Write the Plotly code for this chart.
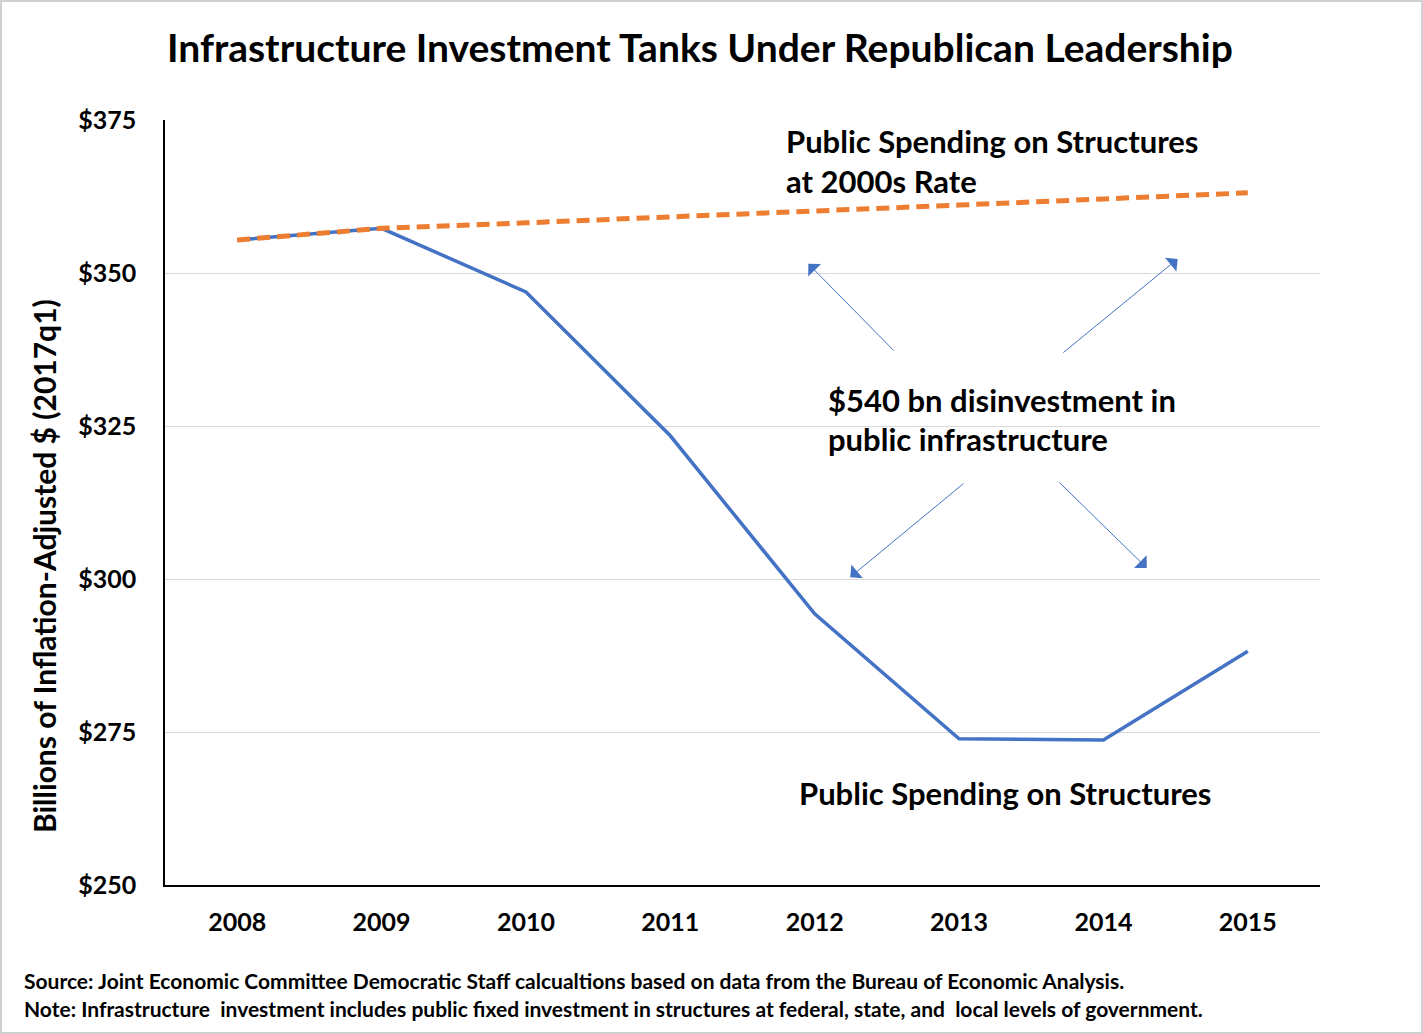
import plotly.graph_objects as go

years = ["2008", "2009", "2010", "2011", "2012", "2013", "2014", "2015"]
actual = [355.4, 357.3, 346.9, 323.4, 294.3, 273.9, 273.7, 288.2]
trend = [355.4, 357.3, 358.2, 359.1, 360.1, 361.1, 362.1, 363.1]
y_ticks = [250, 275, 300, 325, 350, 375]
y_tick_text = ["$250", "$275", "$300", "$325", "$350", "$375"]

FONT = "Lato"
BLUE = "#4472C4"
ORANGE = "#ED7D31"

fig = go.Figure()
fig.add_trace(go.Scatter(x=list(range(len(years))), y=actual, mode="lines",
                         line=dict(color=BLUE, width=3.5), hoverinfo="skip",
                         showlegend=False))
fig.add_trace(go.Scatter(x=list(range(len(years))), y=trend, mode="lines",
                         line=dict(color=ORANGE, width=5, dash="13px,7px"),
                         hoverinfo="skip", showlegend=False))

ann = []

def text_ann(x, y, t, size, xanchor="left"):
    ann.append(dict(x=x, y=y, xref="x", yref="y", text=t, showarrow=False,
                    xanchor=xanchor, yanchor="middle",
                    font=dict(family=FONT, size=size, color="black", weight="bold")))

text_ann(3.79, 371.6, "Public Spending on Structures", 31)
text_ann(3.79, 365.0, "at 2000s Rate", 31)
text_ann(4.08, 329.3, "$540 bn disinvestment in", 31)
text_ann(4.08, 322.8, "public infrastructure", 31)
text_ann(3.88, 265.0, "Public Spending on Structures", 31)

arrows = [
    (3.956, 351.5, 4.557, 337.1),
    (6.514, 352.3, 5.712, 336.8),
    (4.246, 300.3, 5.041, 315.8),
    (6.300, 301.8, 5.685, 316.0),
]
for hx, hy, tx, ty in arrows:
    ann.append(dict(x=hx, y=hy, ax=tx, ay=ty, xref="x", yref="y", axref="x", ayref="y",
                    text="", showarrow=True, arrowhead=1, arrowsize=3, arrowwidth=1,
                    arrowcolor=BLUE))

# axis title
ann.append(dict(x=(44 - 165) / 1155, y=(885 - 566) / 765, xref="paper", yref="paper",
                text="Billions of Inflation-Adjusted $ (2017q1)", textangle=-90,
                showarrow=False, xanchor="center", yanchor="middle",
                font=dict(family=FONT, size=30, color="black", weight="bold")))
# title
ann.append(dict(x=(700 - 165) / 1155, y=(885 - 47) / 765, xref="paper", yref="paper",
                text="Infrastructure Investment Tanks Under Republican Leadership",
                showarrow=False, xanchor="center", yanchor="middle",
                font=dict(family=FONT, size=39, color="black", weight="bold")))
# notes
ann.append(dict(x=(22 - 165) / 1155, y=(885 - 980) / 765, xref="paper", yref="paper",
                text="Source: Joint Economic Committee Democratic Staff calcualtions based on data from the Bureau of Economic Analysis.",
                showarrow=False, xanchor="left", yanchor="middle",
                font=dict(family=FONT, size=21, color="black", weight="bold")))
ann.append(dict(x=(22 - 165) / 1155, y=(885 - 1008) / 765, xref="paper", yref="paper",
                text="Note: Infrastructure  investment includes public fixed investment in structures at federal, state, and  local levels of government.",
                showarrow=False, xanchor="left", yanchor="middle",
                font=dict(family=FONT, size=21, color="black", weight="bold")))

fig.update_layout(
    width=1423, height=1034,
    margin=dict(l=165, r=103, t=120, b=149),
    paper_bgcolor="white", plot_bgcolor="white",
    annotations=ann,
    shapes=[dict(type="rect", xref="paper", yref="paper",
                 x0=(1 - 165) / 1155, x1=(1422 - 165) / 1155,
                 y0=(885 - 1033) / 765, y1=(885 - 1) / 765,
                 line=dict(color="#d0d0d0", width=2), layer="below")],
    xaxis=dict(range=[-0.5, 7.5], tickmode="array", tickvals=list(range(len(years))),
               ticktext=years, showgrid=False, zeroline=False,
               showline=True, linecolor="black", linewidth=1.5, ticks="",
               ticklabelstandoff=14,
               tickfont=dict(family=FONT, size=25, color="black", weight="bold")),
    yaxis=dict(range=[250, 375], tickmode="array", tickvals=y_ticks, ticktext=y_tick_text,
               showgrid=True, gridcolor="#d9d9d9", gridwidth=1, zeroline=False,
               showline=True, linecolor="black", linewidth=1.5, ticks="",
               ticklabelstandoff=22,
               tickfont=dict(family=FONT, size=25, color="black", weight="bold")),
)

fig.write_html("out.html")
